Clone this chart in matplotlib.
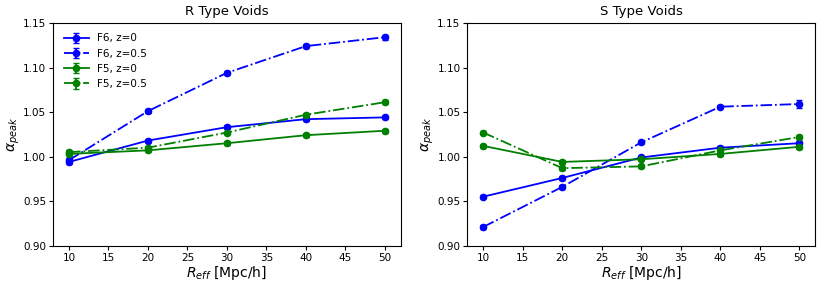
"""
alpha_peak vs R_eff para voids tipo R y tipo S
"""

import numpy as np
import matplotlib
matplotlib.use("Agg")
import matplotlib.pyplot as plt

r_eff = [10, 20, 30, 40, 50]

# Voids tipo R
r_f6_z0 = [0.994, 1.018, 1.033, 1.042, 1.044]
r_f6_z05 = [0.996, 1.051, 1.094, 1.124, 1.134]
r_f5_z0 = [1.003, 1.007, 1.015, 1.024, 1.029]
r_f5_z05 = [1.005, 1.010, 1.027, 1.047, 1.061]
r_err_f6_z0 = [0.002, 0.002, 0.002, 0.002, 0.002]
r_err_f6_z05 = [0.002, 0.002, 0.002, 0.002, 0.003]
r_err_f5_z0 = [0.002, 0.002, 0.002, 0.002, 0.002]
r_err_f5_z05 = [0.002, 0.002, 0.002, 0.002, 0.002]

# Voids tipo S
s_f6_z0 = [0.955, 0.976, 0.999, 1.010, 1.015]
s_f6_z05 = [0.921, 0.966, 1.016, 1.056, 1.059]
s_f5_z0 = [1.012, 0.994, 0.997, 1.003, 1.011]
s_f5_z05 = [1.027, 0.987, 0.989, 1.007, 1.022]
s_err_f6_z0 = [0.002, 0.002, 0.002, 0.002, 0.002]
s_err_f6_z05 = [0.002, 0.002, 0.002, 0.002, 0.005]
s_err_f5_z0 = [0.002, 0.002, 0.002, 0.002, 0.002]
s_err_f5_z05 = [0.002, 0.002, 0.002, 0.002, 0.002]

etiquetas = ["F6, z=0", "F6, z=0.5", "F5, z=0", "F5, z=0.5"]
colores = ["blue", "blue", "green", "green"]
estilos = ["-", "-.", "-", "-."]

plt.rcParams["font.size"] = 7.5

fig = plt.figure(figsize=(8.31, 2.87), dpi=100)
ax1 = fig.add_axes([0.064, 0.144, 0.418, 0.776])
ax2 = fig.add_axes([0.5625, 0.144, 0.4185, 0.776])

paneles = [
    (ax1, "R Type Voids", [r_f6_z0, r_f6_z05, r_f5_z0, r_f5_z05],
     [r_err_f6_z0, r_err_f6_z05, r_err_f5_z0, r_err_f5_z05]),
    (ax2, "S Type Voids", [s_f6_z0, s_f6_z05, s_f5_z0, s_f5_z05],
     [s_err_f6_z0, s_err_f6_z05, s_err_f5_z0, s_err_f5_z05]),
]

for ax, titulo, series, errores in paneles:
    for y, e, lab, c, ls in zip(series, errores, etiquetas, colores, estilos):
        ax.errorbar(r_eff, y, yerr=e, color=c, ls=ls, marker="o", ms=4.5,
                    lw=1.3, capsize=2, label=lab)
    ax.set_ylim(0.90, 1.15)
    ax.set_xlim(8, 52)
    ax.set_yticks(np.arange(0.90, 1.151, 0.05))
    ax.tick_params(length=3, pad=2)
    ax.set_title(titulo, fontsize=9.5, pad=6)
    ax.set_xlabel(r"$R_{eff}$ [Mpc/h]", fontsize=10, labelpad=1)
    ax.set_ylabel(r"$\alpha_{peak}$", fontsize=10, labelpad=1)

ax1.legend(loc="upper left", frameon=False, fontsize=7.5, handlelength=2.4,
           borderaxespad=0.6)

fig.savefig("out.png", dpi=100)
